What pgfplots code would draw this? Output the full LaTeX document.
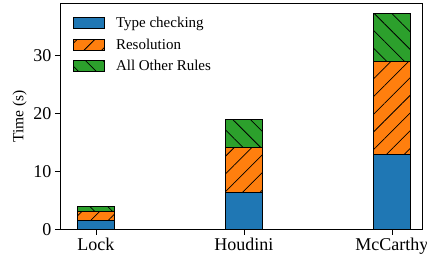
\documentclass[border=0pt]{standalone}
\usepackage{fontspec}
\setmainfont{Liberation Serif}
\usepackage{pgfplots}
\pgfplotsset{compat=1.18}
\usetikzlibrary{patterns.meta}
\definecolor{tabblue}{HTML}{1F77B4}
\definecolor{taborange}{HTML}{FF7F0E}
\definecolor{tabgreen}{HTML}{2CA02C}
\begin{document}
\begin{tikzpicture}
\begin{axis}[
  at={(0,0)}, anchor=south west,
  scale only axis, width=362pt, height=226.5pt,
  xmin=-0.243, xmax=2.203, ymin=0, ymax=39.06,
  ybar stacked, bar width=37pt,
  xtick={0,1,2}, xticklabels={Lock,Houdini,McCarthy},
  ytick={0,10,20,30},
  tick align=outside, xtick pos=bottom, ytick pos=left,
  major tick length=5pt,
  tick style={black, line width=0.8pt},
  ticklabel style={font=\fontsize{18}{20}\selectfont},
  /pgf/number format/assume math mode=true,
  ylabel={Time (s)}, ylabel style={font=\fontsize{15.5}{17}\selectfont},
  axis line style={line width=0.8pt},
  legend image code/.code={\draw[#1] (0pt,-5.5pt) rectangle (31pt,5.5pt);},
  legend style={draw=none, fill=none, at={(0,1)}, anchor=north west,
    xshift=10pt, yshift=-10pt, font=\fontsize{15}{17}\selectfont,
    row sep=5.5pt},
  legend cell align=left,
]
\addplot[fill=tabblue, draw=black, line width=0.8pt]
  coordinates {(0,1.5) (1,6.4) (2,13.0)};
\addlegendentry{\hspace{9pt}Type checking}
\addplot[fill=taborange, draw=black, line width=0.8pt,
  postaction={pattern={Lines[angle=45,distance=12.5pt,line width=0.75pt]}, pattern color=black}]
  coordinates {(0,1.6) (1,7.8) (2,16.05)};
\addlegendentry{\hspace{9pt}Resolution}
\addplot[fill=tabgreen, draw=black, line width=0.8pt,
  postaction={pattern={Lines[angle=-45,distance=12.5pt,line width=0.75pt]}, pattern color=black}]
  coordinates {(0,0.9) (1,4.85) (2,8.15)};
\addlegendentry{\hspace{9pt}All Other Rules}
\end{axis}
\pgfresetboundingbox
\path[use as bounding box] (-60pt,-28.5pt) rectangle (367pt,229.5pt);
\end{tikzpicture}
\end{document}
